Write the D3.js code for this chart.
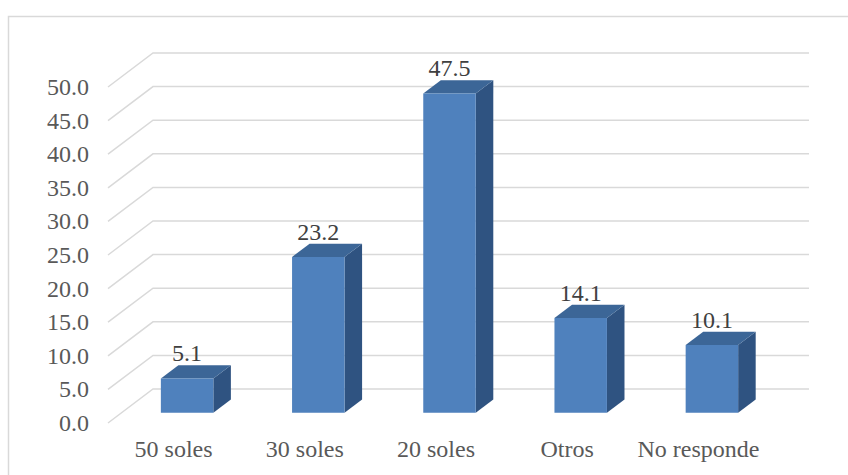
<!DOCTYPE html>
<html>
<head>
<meta charset="utf-8">
<script src="https://cdn.jsdelivr.net/npm/d3@7"></script>
<style>
  html, body { margin: 0; padding: 0; background: #ffffff; }
  svg { display: block; }
</style>
</head>
<body>
<div id="chart"></div>
<script>
// Categories and their percentages
const categories = ["50 soles", "30 soles", "20 soles", "Otros", "No responde"];
const values = [5.1, 23.2, 47.5, 14.1, 10.1];
const tickValues = [0, 5, 10, 15, 20, 25, 30, 35, 40, 45, 50];

const W = 848, H = 475;
const FONT = '"Liberation Serif"';

// Oblique projection: depth goes up and to the right
const depthDX = 45, depthDY = -34;
const barZ0 = 0.3, barZ1 = 0.69;   // bar's front and back planes (0 = front, 1 = back wall)

const x = d3.scaleBand()
  .domain(categories)
  .range([108, 764])
  .paddingInner(0.6)
  .paddingOuter(0.3);

const y = d3.scaleLinear().domain([0, 50]).range([423, 87]);

const proj = (px, v, z) => [px + z * depthDX, y(v) + z * depthDY];

const svg = d3.select("#chart").append("svg")
  .attr("width", W).attr("height", H)
  .style("font-family", FONT)
  .style("font-size", "24px");

// Outer chart frame
svg.append("rect")
  .attr("x", 8.5).attr("y", 16.5)
  .attr("width", 900).attr("height", 500)
  .attr("fill", "none")
  .attr("stroke", "#D9D9D9")
  .attr("stroke-width", 1.5);

// Gridlines: side wall diagonal + back wall horizontal
const wallRight = 809;
svg.append("g").selectAll("path")
  .data(tickValues)
  .join("path")
  .attr("d", v => {
    const a = proj(108, v, 0), b = proj(108, v, 1);
    return `M${a[0]},${a[1]}L${b[0]},${b[1]}L${wallRight},${b[1]}`;
  })
  .attr("fill", "none")
  .attr("stroke", "#D9D9D9")
  .attr("stroke-width", 1.5);

// Value axis labels
svg.append("g").selectAll("text")
  .data(tickValues)
  .join("text")
  .attr("x", 89)
  .attr("y", v => y(v) + 8)
  .attr("text-anchor", "end")
  .style("font-family", FONT)
  .style("font-size", "24px")
  .style("fill", "#595959")
  .text(v => d3.format(".1f")(v));

// 3D bars
const data = categories.map((c, i) => ({ cat: c, val: values[i] }));
const bars = svg.append("g").selectAll("g")
  .data(data)
  .join("g");

const poly = pts => "M" + pts.map(p => p.join(",")).join("L") + "Z";

// side face
bars.append("path")
  .attr("d", d => {
    const xr = x(d.cat) + x.bandwidth();
    return poly([proj(xr, 0, barZ0), proj(xr, 0, barZ1), proj(xr, d.val, barZ1), proj(xr, d.val, barZ0)]);
  })
  .attr("fill", "#2F5381");

// top face
bars.append("path")
  .attr("d", d => {
    const xl = x(d.cat), xr = xl + x.bandwidth();
    return poly([proj(xl, d.val, barZ0), proj(xr, d.val, barZ0), proj(xr, d.val, barZ1), proj(xl, d.val, barZ1)]);
  })
  .attr("fill", "#3C6697");

// front face
bars.append("path")
  .attr("d", d => {
    const xl = x(d.cat), xr = xl + x.bandwidth();
    return poly([proj(xl, 0, barZ0), proj(xr, 0, barZ0), proj(xr, d.val, barZ0), proj(xl, d.val, barZ0)]);
  })
  .attr("fill", "#4F81BD");

// Value labels above bars
bars.append("text")
  .attr("x", d => proj(x(d.cat) + x.bandwidth() / 2, d.val, barZ0)[0])
  .attr("y", d => proj(0, d.val, barZ1)[1] - 4)
  .attr("text-anchor", "middle")
  .style("font-family", FONT)
  .style("font-size", "24px")
  .style("fill", "#404040")
  .text(d => d3.format(".1f")(d.val));

// Category labels
svg.append("g").selectAll("text")
  .data(categories)
  .join("text")
  .attr("x", c => x(c) + x.bandwidth() / 2)
  .attr("y", 457)
  .attr("text-anchor", "middle")
  .style("font-family", FONT)
  .style("font-size", "24px")
  .style("fill", "#595959")
  .text(c => c);
</script>
</body>
</html>
